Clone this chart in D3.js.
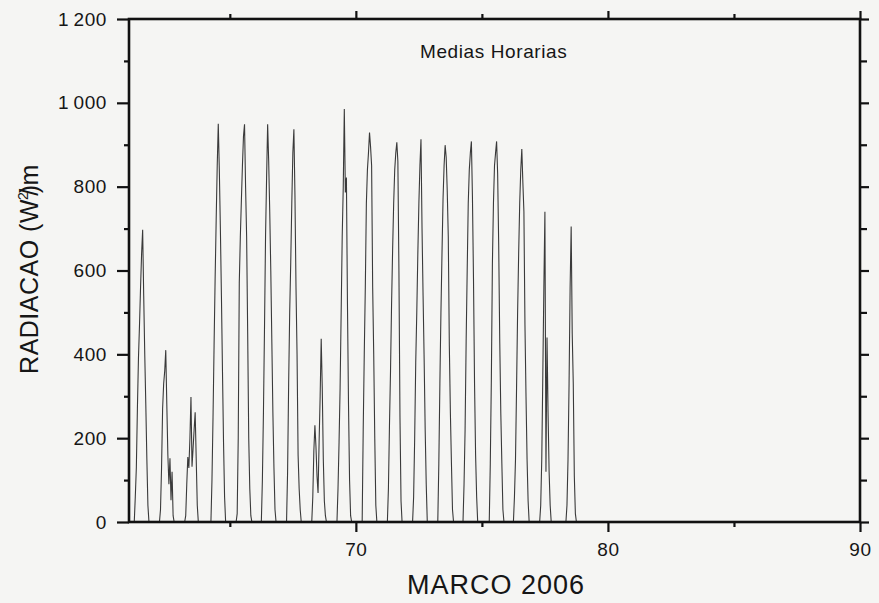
<!DOCTYPE html>
<html>
<head>
<meta charset="utf-8">
<script src="https://cdn.jsdelivr.net/npm/d3@7/dist/d3.min.js"></script>
<style>
  html, body { margin: 0; padding: 0; background: #f5f5f3; }
  svg { display: block; }
  text { font-family: "Liberation Sans", Arial, Helvetica, sans-serif; fill: #161616; }
</style>
</head>
<body>
<svg id="chart" width="879" height="603"></svg>
<script>
// Day of year (March 2006) for each measured day
const days = [61, 62, 63, 64, 65, 66, 67, 68, 69, 70, 71, 72, 73, 74, 75, 76, 77, 78];

// Hourly mean radiation (W/m²), hours 5..21 of each day; night hours are zero
const firstHour = 5;
const hourlyMeans = [
  [0, 60, 130, 270, 390, 470, 560, 640, 697, 540, 400, 280, 150, 40, 0, 0, 0],
  [0, 30, 130, 270, 330, 360, 410, 280, 160, 90, 152, 52, 120, 15, 0, 0, 0],
  [0, 15, 90, 155, 129, 200, 298, 132, 175, 220, 262, 150, 40, 0, 0, 0, 0],
  [0, 0, 100, 250, 420, 580, 720, 850, 950, 840, 700, 540, 360, 190, 60, 0, 0],
  [0, 0, 20, 200, 570, 680, 767, 850, 920, 949, 800, 680, 450, 200, 80, 15, 0],
  [0, 0, 100, 260, 460, 680, 820, 949, 860, 740, 600, 430, 260, 130, 30, 0, 0],
  [0, 0, 120, 330, 500, 620, 760, 880, 937, 780, 560, 400, 160, 80, 30, 0, 0],
  [0, 0, 60, 170, 231, 180, 110, 69, 190, 300, 437, 320, 150, 50, 15, 0, 0],
  [0, 0, 80, 190, 320, 500, 680, 800, 985, 786, 822, 520, 280, 100, 15, 0, 0],
  [0, 0, 220, 400, 560, 760, 840, 880, 929, 895, 850, 560, 400, 200, 40, 0, 0],
  [0, 0, 80, 230, 360, 520, 650, 760, 840, 880, 906, 860, 600, 250, 50, 0, 0],
  [0, 0, 60, 200, 380, 500, 640, 760, 850, 913, 700, 540, 390, 220, 90, 0, 0],
  [0, 0, 140, 330, 500, 640, 770, 850, 899, 870, 790, 680, 420, 260, 140, 30, 0],
  [0, 0, 90, 220, 430, 600, 760, 840, 880, 908, 775, 580, 330, 160, 60, 0, 0],
  [0, 0, 0, 140, 340, 616, 760, 850, 880, 908, 830, 660, 430, 260, 140, 30, 0],
  [0, 0, 60, 150, 320, 500, 640, 760, 840, 890, 810, 740, 470, 300, 150, 50, 0],
  [0, 0, 0, 40, 150, 350, 560, 740, 120, 440, 260, 120, 40, 0, 0, 0, 0],
  [0, 0, 0, 0, 40, 150, 330, 560, 705, 450, 330, 110, 20, 0, 0, 0, 0]
];

// Axis ticks and labels
const xMajorTicks = [70, 80, 90];
const xMinorTicks = [65, 75, 85];
const xTickLabels = ["70", "80", "90"];
const yMajorTicks = [0, 200, 400, 600, 800, 1000, 1200];
const yMinorTicks = [100, 300, 500, 700, 900, 1100];
const yTickLabels = ["0", "200", "400", "600", "800", "1\u2009000", "1\u2009200"];

const chartTitle = "Medias Horarias";
const xTitle = "MARCO 2006";

// Plot frame
const plotLeft = 129, plotRight = 860, plotTop = 19, plotBottom = 522;

const svg = d3.select("#chart");

const x = d3.scaleLinear().domain([61, 90]).range([plotLeft, plotRight]);
const y = d3.scaleLinear().domain([0, 1200]).range([plotBottom, plotTop]);

// Build the hourly series
const series = [];
days.forEach((day, i) => {
  const vals = hourlyMeans[i];
  for (let h = 0; h < 24; h++) {
    const k = h - firstHour;
    const v = (k >= 0 && k < vals.length) ? vals[k] : 0;
    series.push({ t: day + h / 24, v: v });
  }
});
series.push({ t: days[days.length - 1] + 1, v: 0 });

const line = d3.line().x(d => x(d.t)).y(d => y(d.v));

svg.append("path")
  .datum(series)
  .attr("d", line)
  .attr("fill", "none")
  .attr("stroke", "#3a3a3a")
  .attr("stroke-width", 1.1)
  .attr("stroke-linejoin", "miter");

// Axes helper
function styleAxis(g) {
  g.select(".domain").remove();
  g.selectAll(".tick line").attr("stroke", "#111").attr("stroke-width", 2.2);
  g.selectAll(".tick text")
    .style("font-size", "19px")
    .style("letter-spacing", "0.6px")
    .attr("fill", "#161616");
}

// Bottom axis
svg.append("g").attr("transform", `translate(0,${plotBottom})`)
  .call(d3.axisBottom(x).tickValues(xMajorTicks).tickSize(10).tickPadding(11)
    .tickFormat((d, i) => xTickLabels[i]))
  .call(styleAxis);
svg.append("g").attr("transform", `translate(0,${plotBottom})`)
  .call(d3.axisBottom(x).tickValues(xMinorTicks).tickSize(5).tickFormat(""))
  .call(styleAxis);

// Top axis
svg.append("g").attr("transform", `translate(0,${plotTop})`)
  .call(d3.axisTop(x).tickValues(xMajorTicks).tickSize(8).tickFormat(""))
  .call(styleAxis);
svg.append("g").attr("transform", `translate(0,${plotTop})`)
  .call(d3.axisTop(x).tickValues(xMinorTicks).tickSize(5).tickFormat(""))
  .call(styleAxis);

// Left axis
svg.append("g").attr("transform", `translate(${plotLeft},0)`)
  .call(d3.axisLeft(y).tickValues(yMajorTicks).tickSize(12).tickPadding(10)
    .tickFormat((d, i) => yTickLabels[i]))
  .call(styleAxis);
svg.append("g").attr("transform", `translate(${plotLeft},0)`)
  .call(d3.axisLeft(y).tickValues(yMinorTicks).tickSize(5).tickFormat(""))
  .call(styleAxis);

// Right axis
svg.append("g").attr("transform", `translate(${plotRight},0)`)
  .call(d3.axisRight(y).tickValues(yMajorTicks).tickSize(9).tickFormat(""))
  .call(styleAxis);
svg.append("g").attr("transform", `translate(${plotRight},0)`)
  .call(d3.axisRight(y).tickValues(yMinorTicks).tickSize(7).tickFormat(""))
  .call(styleAxis);

// Frame
svg.append("rect")
  .attr("x", plotLeft).attr("y", plotTop)
  .attr("width", plotRight - plotLeft).attr("height", plotBottom - plotTop)
  .attr("fill", "none")
  .attr("stroke", "#111")
  .attr("stroke-width", 2.6);

// In-plot title
svg.append("text")
  .attr("x", 420).attr("y", 58)
  .style("font-size", "19px")
  .style("letter-spacing", "0.6px")
  .text(chartTitle);

// X axis title
svg.append("text")
  .attr("x", 496).attr("y", 594)
  .attr("text-anchor", "middle")
  .style("font-size", "27px")
  .style("letter-spacing", "1px")
  .text(xTitle);

// Y axis title
const yt = svg.append("text")
  .attr("transform", "translate(38,269) rotate(-90)")
  .attr("text-anchor", "middle")
  .style("font-size", "25px")
  .style("letter-spacing", "0.5px");
yt.append("tspan").text("RADIACAO (W");
yt.append("tspan").attr("dy", -10).attr("dx", -1).style("font-size", "14px").text("2");
yt.append("tspan").attr("dy", 10).attr("dx", -4).text("/");
yt.append("tspan").attr("dx", -5).text(")");
yt.append("tspan").attr("dx", -1).text("m");
</script>
</body>
</html>
